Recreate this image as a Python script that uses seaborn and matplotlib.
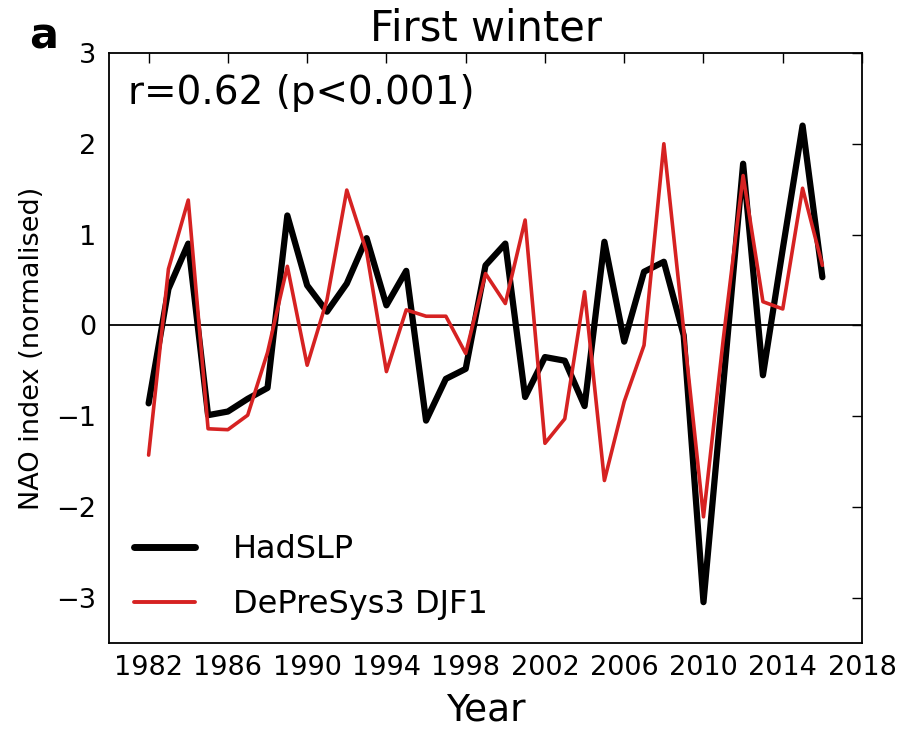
import numpy as np
import pandas as pd
import matplotlib
matplotlib.use("Agg")
import matplotlib.pyplot as plt
import seaborn as sns

years = list(range(1982, 2017))
hadslp = [-0.86, 0.40, 0.90, -0.99, -0.95, -0.81, -0.69, 1.21, 0.44, 0.15,
          0.46, 0.96, 0.22, 0.60, -1.05, -0.59, -0.48, 0.66, 0.90, -0.79,
          -0.35, -0.39, -0.89, 0.92, -0.18, 0.59, 0.70, -0.11, -3.05, -0.65,
          1.78, -0.55, 0.84, 2.20, 0.53]
depresys = [-1.43, 0.62, 1.38, -1.14, -1.15, -0.99, -0.30, 0.65, -0.44, 0.28,
            1.49, 0.81, -0.51, 0.17, 0.10, 0.10, -0.31, 0.57, 0.24, 1.16,
            -1.30, -1.03, 0.37, -1.71, -0.84, -0.22, 2.00, -0.05, -2.11, -0.15,
            1.65, 0.26, 0.18, 1.51, 0.66]
series_names = ["HadSLP", "DePreSys3 DJF1"]
xticks = list(range(1982, 2019, 4))
yticks = [-3, -2, -1, 0, 1, 2, 3]

df = pd.DataFrame({
    "Year": years * 2,
    "NAO": hadslp + depresys,
    "series": [series_names[0]] * len(years) + [series_names[1]] * len(years),
})

sns.set_style("white")
plt.rcParams['font.family'] = ['DejaVu Sans']
plt.rcParams['text.color'] = 'black'
plt.rcParams['axes.labelcolor'] = 'black'

fig = plt.figure(figsize=(8.97, 7.32), dpi=100)
ax = fig.add_axes([0.1215, 0.1216, 0.8395, 0.806])

palette = {series_names[0]: "black", series_names[1]: "#d62222"}
sns.lineplot(data=df, x="Year", y="NAO", hue="series", size="series",
             sizes={series_names[0]: 4.5, series_names[1]: 2.6},
             palette=palette, ax=ax, legend=False)

ax.axhline(0, color="black", lw=1.3, zorder=0.5)

ax.set_xlim(1980, 2018)
ax.set_ylim(-3.5, 3)
ax.set_xticks(xticks)
ax.set_yticks(yticks)
ax.set_yticklabels(["\u22123", "\u22122", "\u22121", "0", "1", "2", "3"])
ax.tick_params(direction="in", length=7, width=1.0, top=True, right=True,
               labelsize=19.5, pad=9, colors="black")
for s in ax.spines.values():
    s.set_color("black")
    s.set_linewidth(1.3)

ax.set_xlabel("Year", fontsize=27, labelpad=8, color="black")
ax.set_ylabel("NAO index (normalised)", fontsize=19.5, labelpad=8, color="black")
ax.set_title("First winter", fontsize=30, pad=9, color="black")

ax.text(0.025, 0.965, "r=0.62 (p<0.001)", transform=ax.transAxes,
        fontsize=28, va="top", ha="left", color="black")
fig.text(0.033, 0.922, "a", fontsize=31, fontweight="bold", ha="left",
         va="bottom", color="black")

from matplotlib.lines import Line2D
handles = [Line2D([], [], color="black", lw=5),
           Line2D([], [], color="#d62222", lw=2.8)]
leg = ax.legend(handles, series_names, loc="lower left", frameon=False,
                fontsize=23, handlelength=1.9, handletextpad=1.2,
                borderaxespad=0.5, labelspacing=0.75,
                bbox_to_anchor=(-0.005, -0.01))
for t in leg.get_texts():
    t.set_color("black")

fig.savefig("out.png", dpi=100)
